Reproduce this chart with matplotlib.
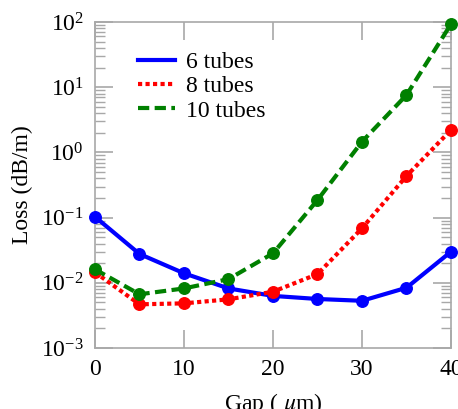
import matplotlib
matplotlib.use("Agg")
import matplotlib.pyplot as plt
from matplotlib.ticker import LogLocator, NullFormatter

plt.rcParams['font.family'] = ['Liberation Serif', 'DejaVu Serif']
plt.rcParams['mathtext.fontset'] = 'stix'

# Loss vs. gap for each tube count
gap = [0, 5, 10, 15, 20, 25, 30, 35, 40]
loss_6 = [0.103, 0.0277, 0.014, 0.0082, 0.0063, 0.00565, 0.0053, 0.0084, 0.030]
loss_8 = [0.0145, 0.00468, 0.00484, 0.00558, 0.0073, 0.0136, 0.0686, 0.435, 2.21]
loss_10 = [0.0161, 0.00667, 0.0082, 0.0114, 0.0283, 0.186, 1.46, 7.59, 93.0]

fig = plt.figure(figsize=(4.58, 4.09), dpi=100)
ax = fig.add_axes([0.2074, 0.1491, 0.7773, 0.7971])

ax.plot(gap, loss_6, color='#0000ff', lw=3, ls='-', marker='o', ms=8.3,
        label='6 tubes', clip_on=False, zorder=3)
ax.plot(gap, loss_8, color='#ff0000', lw=3, ls=(0, (1, 0.8)), marker='o', ms=8.3,
        label='8 tubes', clip_on=False, zorder=3)
ax.plot(gap, loss_10, color='#008000', lw=3, ls=(0, (2.7, 1.3)), marker='o', ms=8.3,
        label='10 tubes', clip_on=False, zorder=3)

ax.set_yscale('log')
ax.set_xlim(0, 40)
ax.set_ylim(1e-3, 1e2)
ax.set_xticks([0, 10, 20, 30, 40])
ax.yaxis.set_major_locator(LogLocator(base=10, numticks=10))
ax.yaxis.set_minor_locator(LogLocator(base=10, subs=range(2, 10), numticks=10))
ax.yaxis.set_minor_formatter(NullFormatter())

spine_color = '#a8a8a8'
for s in ax.spines.values():
    s.set_color(spine_color)
    s.set_linewidth(1.2)
ax.tick_params(which='both', direction='in', top=True, right=True,
               color=spine_color, labelsize=17, pad=8)
ax.tick_params(which='major', length=13, width=1.2)
ax.tick_params(which='minor', length=7, width=1)

ax.set_xlabel(r'Gap ( $\mu$m)', fontsize=17, labelpad=8)
ax.set_ylabel('Loss (dB/m)', fontsize=17, labelpad=6)

leg = ax.legend(loc='upper left', bbox_to_anchor=(0.121, 0.91), frameon=False,
                fontsize=17, handlelength=1.57, handletextpad=0.47,
                labelspacing=0.12, borderaxespad=0, borderpad=0)
for h in leg.legend_handles:
    h.set_marker('')

fig.savefig('out.png', dpi=100)
